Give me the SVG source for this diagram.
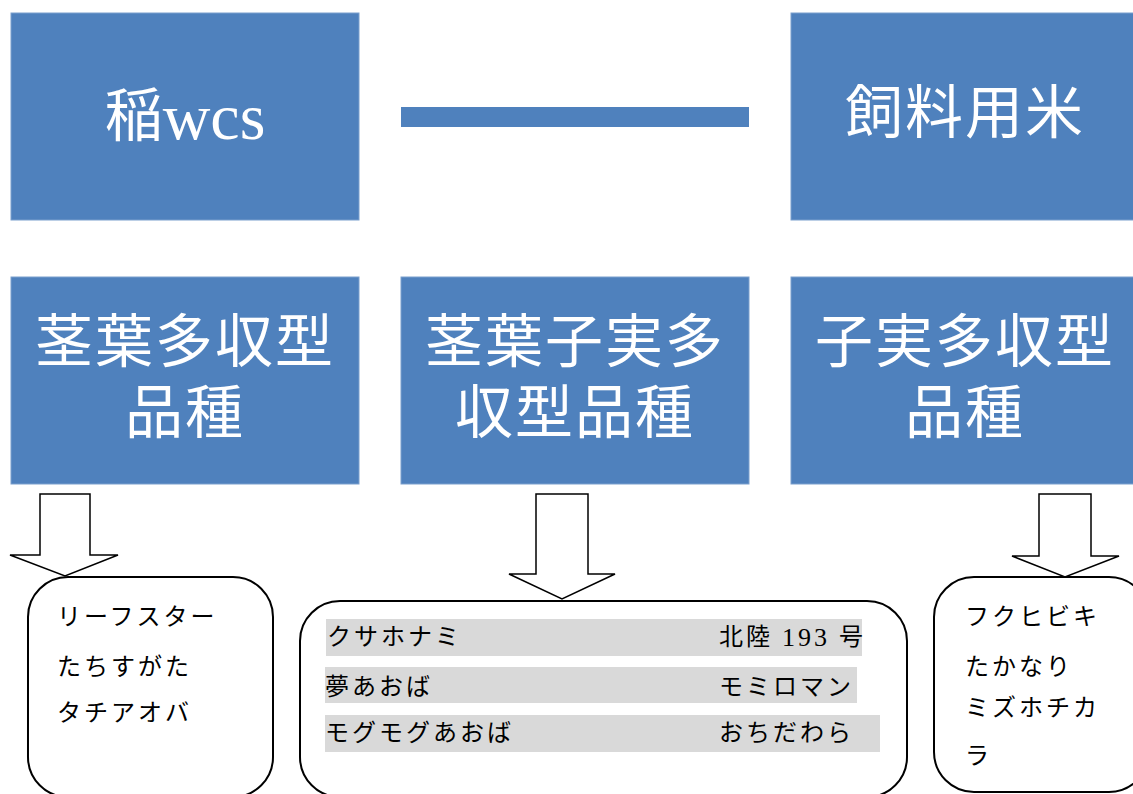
<svg xmlns="http://www.w3.org/2000/svg" width="1133" height="794" viewBox="0 0 1133 794">
<style>
.blue{fill:#4F81BD;stroke:#7B9FCD;stroke-width:1}
.big{font-family:"Liberation Serif","Noto Sans CJK JP",serif;font-size:58px;fill:#fff;text-anchor:middle;dominant-baseline:central}
.rbox{fill:#fff;stroke:#000;stroke-width:2}
.arrow{fill:#fff;stroke:#000;stroke-width:1.5;stroke-linejoin:miter}
.sm{font-family:"Liberation Serif","Noto Sans CJK JP",serif;font-size:24px;fill:#000;dominant-baseline:central;letter-spacing:3px}
.bar{fill:#D9D9D9}
</style>
<rect width="1133" height="794" fill="#fff"/>
<g id="node-ine">
<rect class="blue" x="11" y="13" width="348" height="207"/>
<text class="big" x="185" y="116" font-size="60">稲<tspan font-size="66">wcs</tspan></text>
</g>
<g id="connectors">
<rect x="401" y="107" width="348" height="20" fill="#4F81BD"/>
<polygon class="arrow" points="40,494 90,494 90,555 118,555 65,576 10,555 40,555"/>
<polygon class="arrow" points="536,494 588,494 588,574 615,574 562,599 509,574 536,574"/>
<polygon class="arrow" points="1039,494 1091,494 1091,556 1119,556 1065,577 1012,556 1039,556"/>
</g>
<g id="node-shiryo">
<rect class="blue" x="791" y="13" width="348" height="207"/>
<text class="big" x="965" y="113" letter-spacing="2">飼料用米</text>
</g>
<g id="node-keiyo">
<rect class="blue" x="11" y="277" width="348" height="207"/>
<text class="big" x="185" y="342" letter-spacing="2">茎葉多収型</text>
<text class="big" x="185" y="413" letter-spacing="2">品種</text>
</g>
<g id="node-keiyoshijitsu">
<rect class="blue" x="401" y="277" width="348" height="207"/>
<text class="big" x="575" y="342" letter-spacing="2">茎葉子実多</text>
<text class="big" x="575" y="413" letter-spacing="2">収型品種</text>
</g>
<g id="node-shijitsu">
<rect class="blue" x="791" y="277" width="348" height="207"/>
<text class="big" x="965" y="342" letter-spacing="2">子実多収型</text>
<text class="big" x="965" y="413" letter-spacing="2">品種</text>
</g>
<g id="list-left">
<rect class="rbox" x="28" y="577" width="245" height="220" rx="40"/>
<text class="sm" x="57" y="617" letter-spacing="3.5">リーフスター</text>
<text class="sm" x="57" y="667" letter-spacing="3.5">たちすがた</text>
<text class="sm" x="57" y="713" letter-spacing="3.5">タチアオバ</text>
</g>
<g id="list-middle">
<rect class="rbox" x="300" y="601" width="607" height="196" rx="40"/>
<rect class="bar" x="326" y="619" width="536" height="37"/>
<rect class="bar" x="325" y="667" width="532" height="36"/>
<rect class="bar" x="325" y="715" width="555" height="37"/>
<text class="sm" x="327" y="637">クサホナミ</text>
<text class="sm" x="719" y="637" letter-spacing="0.5">北陸 <tspan font-size="26">193</tspan> 号</text>
<text class="sm" x="325" y="687">夢あおば</text>
<text class="sm" x="719" y="687">モミロマン</text>
<text class="sm" x="325" y="733">モグモグあおば</text>
<text class="sm" x="719" y="733">おちだわら</text>
</g>
<g id="list-right">
<rect class="rbox" x="934" y="577" width="215" height="215" rx="40"/>
<text class="sm" x="965" y="617" letter-spacing="2">フクヒビキ</text>
<text class="sm" x="965" y="667" letter-spacing="2">たかなり</text>
<text class="sm" x="965" y="708" letter-spacing="2">ミズホチカ</text>
<text class="sm" x="965" y="756" letter-spacing="2">ラ</text>
</g>
</svg>
